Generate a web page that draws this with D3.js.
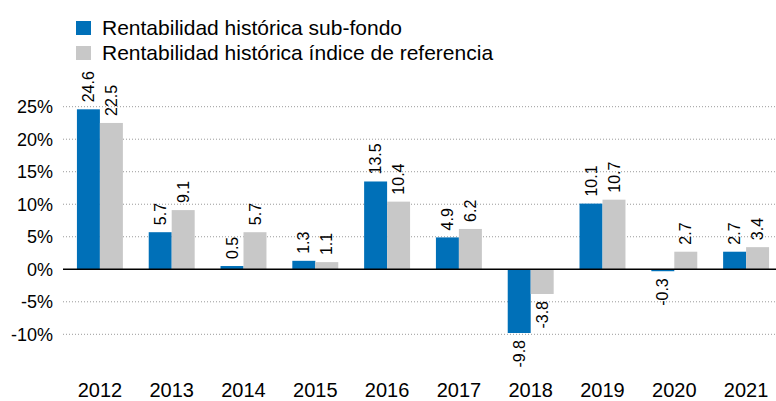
<!DOCTYPE html>
<html lang="es">
<head>
    <meta charset="UTF-8">
    <title>Rentabilidad histórica</title>
    <script src="https://d3js.org/d3.v7.min.js"></script>
    <style>
        body { margin: 0; background: #fff; }
        svg text { font-family: "Liberation Sans", Arial, sans-serif; fill: #000; }
        .grid line { stroke: #9a9a9a; stroke-dasharray: 1,2; }
    </style>
</head>
<body>
    <svg id="chart"></svg>
    <script>
        // chart data
        const years = ["2012", "2013", "2014", "2015", "2016", "2017", "2018", "2019", "2020", "2021"];
        const fondo = [24.6, 5.7, 0.5, 1.3, 13.5, 4.9, -9.8, 10.1, -0.3, 2.7];
        const indice = [22.5, 9.1, 5.7, 1.1, 10.4, 6.2, -3.8, 10.7, 2.7, 3.4];
        const seriesNames = ["Rentabilidad histórica sub-fondo", "Rentabilidad histórica índice de referencia"];
        const yTicks = [-10, -5, 0, 5, 10, 15, 20, 25];

        const colors = ["#0070b8", "#c8c8c8"];
        const width = 776, height = 401;

        const svg = d3.select("#chart").attr("width", width).attr("height", height);

        const x0 = d3.scaleBand().domain(years).range([64, 782]).paddingInner(0.36).paddingOuter(0.18);
        const x1 = d3.scaleBand().domain([0, 1]).range([0, x0.bandwidth()]);
        const y = d3.scaleLinear().domain([-10, 25]).range([334.3, 106.7]);

        // gridlines
        svg.append("g").attr("class", "grid")
            .selectAll("line")
            .data(yTicks.filter(d => d !== 0))
            .enter().append("line")
            .attr("x1", 63).attr("x2", width)
            .attr("y1", d => y(d)).attr("y2", d => y(d));

        // y tick labels
        svg.append("g").selectAll("text")
            .data(yTicks)
            .enter().append("text")
            .attr("x", 53)
            .attr("y", d => y(d))
            .attr("dy", "0.35em")
            .attr("text-anchor", "end")
            .style("font-size", "18px")
            .text(d => d + "%");

        const rows = years.map((yr, i) => ({ year: yr, vals: [fondo[i], indice[i]] }));

        const groups = svg.append("g").selectAll("g")
            .data(rows)
            .enter().append("g")
            .attr("transform", d => "translate(" + x0(d.year) + ",0)");

        groups.selectAll("rect")
            .data(d => d.vals.map((v, k) => ({ k: k, v: v })))
            .enter().append("rect")
            .attr("x", d => x1(d.k))
            .attr("width", x1.bandwidth())
            .attr("y", d => y(Math.max(0, d.v)))
            .attr("height", d => Math.abs(y(d.v) - y(0)))
            .attr("fill", d => colors[d.k]);

        // value labels, rotated
        groups.selectAll("text")
            .data(d => d.vals.map((v, k) => ({ k: k, v: v })))
            .enter().append("text")
            .attr("transform", d => {
                const cx = x1(d.k) + x1.bandwidth() / 2;
                const cy = d.v >= 0 ? y(d.v) - 7 : y(d.v) + 7;
                return "translate(" + cx + "," + cy + ") rotate(-90)";
            })
            .attr("dy", "0.35em")
            .attr("text-anchor", d => d.v >= 0 ? "start" : "end")
            .style("font-size", "16px")
            .text(d => d.v.toFixed(1));

        // zero line
        svg.append("line")
            .attr("x1", 63).attr("x2", width)
            .attr("y1", y(0)).attr("y2", y(0))
            .attr("stroke", "#000").attr("stroke-width", 1.5);

        // year labels
        svg.append("g").selectAll("text")
            .data(years)
            .enter().append("text")
            .attr("x", d => x0(d) + x0.bandwidth() / 2)
            .attr("y", 397)
            .attr("text-anchor", "middle")
            .style("font-size", "20px")
            .text(d => d);

        // legend
        const legend = svg.append("g").selectAll("g")
            .data(seriesNames)
            .enter().append("g")
            .attr("transform", (d, i) => "translate(76," + (21 + i * 25) + ")");
        legend.append("rect").attr("width", 15).attr("height", 14).attr("fill", (d, i) => colors[i]);
        legend.append("text").attr("x", 26).attr("y", 14).style("font-size", "21px").text(d => d);
    </script>
</body>
</html>
